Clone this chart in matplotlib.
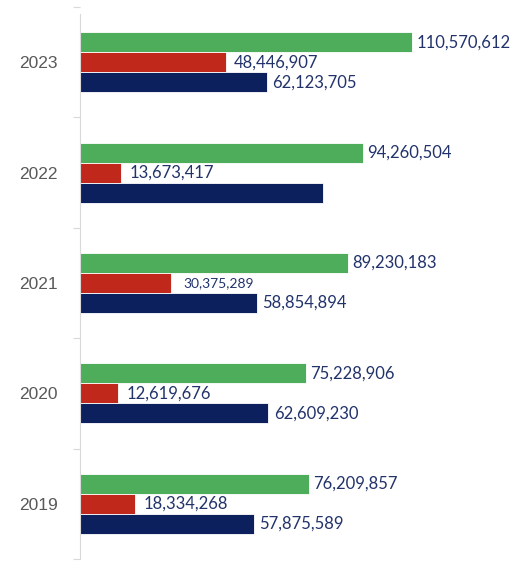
import matplotlib
matplotlib.use("Agg")
import matplotlib.pyplot as plt
import numpy as np

years = ["2019", "2020", "2021", "2022", "2023"]
green_vals = [76209857, 75228906, 89230183, 94260504, 110570612]
red_vals = [18334268, 12619676, 30375289, 13673417, 48446907]
navy_vals = [57875589, 62609230, 58854894, 80700000, 62123705]
green_labels = ["76,209,857", "75,228,906", "89,230,183", "94,260,504", "110,570,612"]
red_labels = ["18,334,268", "12,619,676", "30,375,289", "13,673,417", "48,446,907"]
navy_labels = ["57,875,589", "62,609,230", "58,854,894", "", "62,123,705"]

GREEN = "#4EAD5B"
RED = "#C0281C"
NAVY = "#0C205E"
LABEL = "#22336B"

fig = plt.figure(figsize=(5.13, 5.63), dpi=100)
ax = fig.add_axes([80/513, 4/563, 433/513, 552/563])

y = np.arange(len(years))
h = 0.181
ax.barh(y + h, green_vals, height=h, color=GREEN, edgecolor="white", linewidth=0.6)
ax.barh(y, red_vals, height=h, color=RED, edgecolor="white", linewidth=0.6)
ax.barh(y - h, navy_vals, height=h, color=NAVY, edgecolor="white", linewidth=0.6)

ax.set_xlim(0, 144e6)
ax.set_ylim(-0.5, 4.5)

font = "Lato"
for i in range(len(years)):
    ax.annotate(green_labels[i], (green_vals[i], y[i] + h), xytext=(3, 0),
                textcoords="offset points", va="center", ha="left",
                fontsize=12, color=LABEL, family=font)
    fs = 10 if i == 2 else 12
    off = 9 if i == 2 else 6
    ax.annotate(red_labels[i], (red_vals[i], y[i]), xytext=(off, 0),
                textcoords="offset points", va="center", ha="left",
                fontsize=fs, color=LABEL, family=font)
    if navy_labels[i]:
        ax.annotate(navy_labels[i], (navy_vals[i], y[i] - h), xytext=(4, 0),
                    textcoords="offset points", va="center", ha="left",
                    fontsize=12, color=LABEL, family=font)

ax.set_yticks(y)
ax.set_yticklabels(years, fontsize=12.5, color="#595959", family="Liberation Sans")
ax.tick_params(axis="y", which="major", length=0, pad=16)
ax.set_yticks(np.arange(-0.5, 4.6, 1.0), minor=True)
ax.tick_params(axis="y", which="minor", length=5, color="#D9D9D9", width=0.8)
ax.set_xticks([])

for s in ["top", "right", "bottom"]:
    ax.spines[s].set_visible(False)
ax.spines["left"].set_color("#D9D9D9")
ax.spines["left"].set_linewidth(0.8)
ax.spines["left"].set_bounds(-0.5, 4.44)

fig.savefig("out.png", dpi=100)
